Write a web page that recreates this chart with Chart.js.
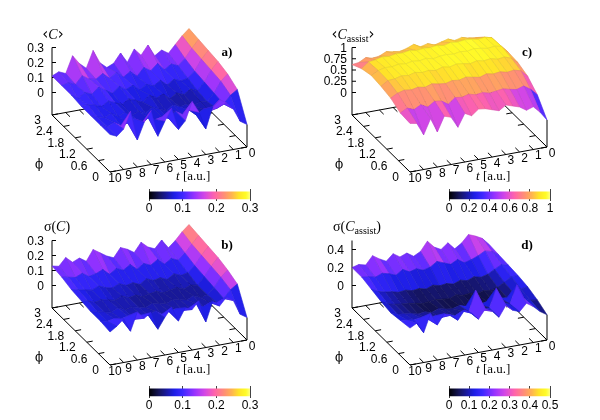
<!DOCTYPE html>
<html><head><meta charset="utf-8">
<script src="https://cdn.jsdelivr.net/npm/chart.js@4.4.1/dist/chart.umd.min.js"></script>
<style>
html,body{margin:0;padding:0;background:#fff;}
#wrap{position:relative;width:600px;height:420px;overflow:hidden;background:#fff;}
#wrap canvas{position:absolute;}
.lb{position:absolute;font-family:'Liberation Sans',Arial,sans-serif;font-size:12px;line-height:1;white-space:nowrap;color:#000;}
.sf{font-family:'Liberation Serif','DejaVu Serif',serif;font-size:13px;}
.sym{font-family:'DejaVu Serif','Liberation Serif',serif;font-size:12px;}
.tag{font-family:'Liberation Serif','DejaVu Serif',serif;font-size:13px;font-weight:bold;}
.ttl{font-family:'Liberation Serif','DejaVu Serif',serif;font-size:14px;}
.br{font-family:'DejaVu Sans',sans-serif;font-size:15px;}
sub{font-size:10px;vertical-align:-3px;line-height:0;}
</style></head><body><div id="wrap"></div>
<script>
// ---------- data ----------
const tValues   = [0,0.5,1,1.5,2,2.5,3,3.5,4,4.5,5,5.5,6,6.5,7,7.5,8,8.5,9,9.5,10];
const phiValues = [0,0.5,1,1.5,2,2.5,3];

// rows: phi = 0, 0.5, ..., 3 ; columns: t = 0 ... 10
const meanC = [
 [0.00,0.03,0.12,0.17,0.20,0.16,0.02,0.14,0.22,0.10,0.05,0.20,0.12,0.03,0.21,0.14,0.03,0.23,0.12,0.08,0.10],
 [0.17,0.14,0.09,0.07,0.06,0.08,0.05,0.09,0.07,0.10,0.06,0.08,0.07,0.09,0.06,0.10,0.08,0.07,0.10,0.08,0.10],
 [0.21,0.17,0.10,0.05,0.06,0.04,0.06,0.05,0.07,0.04,0.06,0.08,0.05,0.07,0.05,0.08,0.06,0.09,0.07,0.08,0.10],
 [0.23,0.18,0.11,0.06,0.08,0.05,0.07,0.04,0.08,0.06,0.09,0.05,0.07,0.09,0.06,0.08,0.10,0.07,0.09,0.10,0.10],
 [0.24,0.19,0.12,0.08,0.07,0.09,0.06,0.10,0.07,0.09,0.06,0.10,0.08,0.11,0.07,0.10,0.13,0.09,0.11,0.08,0.11],
 [0.25,0.20,0.14,0.10,0.12,0.09,0.14,0.10,0.13,0.08,0.12,0.09,0.13,0.10,0.14,0.11,0.12,0.15,0.10,0.12,0.11],
 [0.26,0.22,0.17,0.12,0.15,0.12,0.20,0.14,0.19,0.11,0.18,0.12,0.10,0.14,0.23,0.12,0.16,0.22,0.11,0.13,0.11]
];
const sigmaC = [
 [0.00,0.03,0.13,0.16,0.11,0.15,0.02,0.17,0.12,0.14,0.06,0.16,0.10,0.03,0.15,0.12,0.17,0.05,0.14,0.10,0.07],
 [0.16,0.13,0.08,0.06,0.07,0.05,0.08,0.06,0.05,0.07,0.06,0.05,0.08,0.06,0.07,0.05,0.08,0.07,0.08,0.07,0.08],
 [0.19,0.15,0.09,0.05,0.04,0.06,0.04,0.05,0.06,0.04,0.05,0.06,0.04,0.05,0.06,0.05,0.07,0.05,0.06,0.07,0.08],
 [0.21,0.16,0.10,0.05,0.06,0.04,0.06,0.05,0.04,0.06,0.05,0.04,0.06,0.05,0.07,0.05,0.06,0.07,0.06,0.08,0.09],
 [0.22,0.17,0.11,0.07,0.06,0.08,0.05,0.07,0.06,0.08,0.05,0.07,0.06,0.08,0.06,0.07,0.09,0.07,0.08,0.09,0.10],
 [0.23,0.18,0.13,0.09,0.11,0.08,0.12,0.09,0.11,0.08,0.12,0.09,0.11,0.08,0.12,0.10,0.09,0.12,0.10,0.11,0.12],
 [0.24,0.20,0.15,0.11,0.17,0.12,0.14,0.18,0.12,0.15,0.17,0.11,0.13,0.16,0.19,0.12,0.15,0.13,0.17,0.12,0.13]
];
const meanCassist = [
 [0.10,0.30,0.45,0.40,0.50,0.55,0.60,0.50,0.55,0.60,0.62,0.50,0.58,0.30,0.55,0.60,0.28,0.60,0.27,0.55,0.58],
 [0.45,0.60,0.70,0.65,0.68,0.72,0.70,0.68,0.72,0.70,0.74,0.70,0.72,0.60,0.70,0.72,0.62,0.70,0.62,0.68,0.60],
 [0.65,0.80,0.84,0.82,0.86,0.84,0.87,0.82,0.85,0.88,0.84,0.86,0.82,0.84,0.87,0.82,0.85,0.82,0.84,0.80,0.72],
 [0.74,0.87,0.92,0.90,0.94,0.92,0.95,0.91,0.94,0.96,0.92,0.95,0.90,0.93,0.91,0.94,0.90,0.92,0.88,0.87,0.77],
 [0.76,0.92,0.95,0.93,0.96,0.98,0.95,0.97,0.94,0.96,0.95,0.92,0.96,0.93,0.95,0.92,0.94,0.91,0.92,0.88,0.80],
 [0.72,0.90,0.94,0.92,0.95,0.96,0.94,0.96,0.92,0.95,0.93,0.94,0.92,0.95,0.92,0.93,0.90,0.92,0.88,0.86,0.74],
 [0.60,0.68,0.72,0.74,0.78,0.74,0.80,0.76,0.72,0.78,0.74,0.82,0.76,0.72,0.74,0.77,0.70,0.68,0.72,0.64,0.62]
];
const sigmaCassist = [
 [0.03,0.08,0.15,0.20,0.12,0.15,0.22,0.10,0.18,0.22,0.12,0.20,0.25,0.15,0.22,0.25,0.14,0.28,0.08,0.20,0.16],
 [0.09,0.10,0.14,0.30,0.10,0.12,0.30,0.10,0.09,0.32,0.10,0.12,0.08,0.11,0.09,0.12,0.10,0.13,0.12,0.13,0.14],
 [0.13,0.12,0.08,0.05,0.06,0.04,0.05,0.03,0.05,0.04,0.06,0.04,0.05,0.07,0.04,0.06,0.05,0.07,0.08,0.09,0.12],
 [0.15,0.15,0.10,0.06,0.04,0.05,0.03,0.05,0.04,0.06,0.03,0.04,0.05,0.04,0.03,0.05,0.06,0.07,0.08,0.10,0.14],
 [0.16,0.18,0.14,0.10,0.08,0.10,0.07,0.09,0.06,0.08,0.07,0.09,0.06,0.08,0.07,0.09,0.08,0.10,0.11,0.13,0.17],
 [0.17,0.22,0.24,0.20,0.17,0.15,0.20,0.16,0.19,0.22,0.17,0.15,0.18,0.16,0.20,0.15,0.18,0.20,0.17,0.19,0.20],
 [0.18,0.26,0.30,0.33,0.25,0.20,0.28,0.22,0.26,0.34,0.24,0.20,0.25,0.22,0.27,0.20,0.24,0.29,0.20,0.22,0.20]
];

const tTicks      = [0,1,2,3,4,5,6,7,8,9,10];
const tTickLabels = ['0','1','2','3','4','5','6','7','8','9','10'];
const phiTicks      = [0,0.6,1.2,1.8,2.4,3];
const phiTickLabels = ['0','0.6','1.2','1.8','2.4','3'];

const zTicksC       = [0,0.1,0.2,0.3];
const zLabelsC      = ['0','0.1','0.2','0.3'];
const zTicksAssist  = [0,0.25,0.5,0.75,1];
const zLabelsAssist = ['0','0.25','0.5','0.75','1'];
const zTicksSigA    = [0,0.2,0.4];
const zLabelsSigA   = ['0','0.2','0.4'];

const cbTicksC      = [0,0.1,0.2,0.3];
const cbLabelsC     = ['0','0.1','0.2','0.3'];
const cbTicksAssist = [0,0.2,0.4,0.6,0.8,1];
const cbLabelsAssist= ['0','0.2','0.4','0.6','0.8','1'];
const cbTicksSigA   = [0,0.1,0.2,0.3,0.4,0.5];
const cbLabelsSigA  = ['0','0.1','0.2','0.3','0.4','0.5'];

// ---------- palette ----------
const palette = [
 [0.00,0,0,0],[0.10,20,20,90],[0.25,30,30,230],[0.33,60,40,255],[0.45,150,50,255],
 [0.55,210,70,230],[0.65,255,100,170],[0.75,255,145,115],[0.82,255,180,80],[0.89,255,228,40],[0.96,255,252,40],[1.00,255,255,130]
];
function cmapRGB(f){
  f=Math.max(0,Math.min(1,f));
  for(let i=1;i<palette.length;i++){
    if(f<=palette[i][0]){
      const a=palette[i-1],b=palette[i],u=(f-a[0])/(b[0]-a[0]);
      return [1,2,3].map(k=>Math.round(a[k]+(b[k]-a[k])*u));
    }
  }
  return [255,255,130];
}
const rgb=(c,m)=>'rgb('+c.map(v=>Math.round(v*m)).join(',')+')';

Chart.defaults.font.family="'Liberation Sans', Arial, sans-serif";
Chart.defaults.font.size=12;
Chart.defaults.color='#000';

const wrap=document.getElementById('wrap');
function label(html,x,y,cls,ax,ay){
  const d=document.createElement('div');
  d.className='lb '+(cls||'');
  d.innerHTML=html;
  d.style.left=x+'px'; d.style.top=y+'px';
  d.style.transform='translate('+(-ax*100)+'%,'+(-ay*100)+'%)';
  wrap.appendChild(d);
}

const panels=[
 {ox:0,  oy:0,   grid:meanC,        zmax:0.3, zT:zTicksC,      zL:zLabelsC,      zR:44, cbT:cbTicksC,      cbL:cbLabelsC,      cbX:149, cbY:187,
  title:'<span class="br">‹</span><i>C</i><span class="br">›</span>', tcx:53, tag:'a)'},
 {ox:0,  oy:193, grid:sigmaC,       zmax:0.3, zT:zTicksC,      zL:zLabelsC,      zR:44, cbT:cbTicksC,      cbL:cbLabelsC,      cbX:149, cbY:384,
  title:'σ(<i>C</i>)', tcx:57, tag:'b)'},
 {ox:300,oy:0,   grid:meanCassist,  zmax:1.0, zT:zTicksAssist, zL:zLabelsAssist, zR:47, cbT:cbTicksAssist, cbL:cbLabelsAssist, cbX:449, cbY:187,
  title:'<span class="br">‹</span><i>C</i><sub>assist</sub><span class="br">›</span>', tcx:53, tag:'c)'},
 {ox:300,oy:193, grid:sigmaCassist, zmax:0.5, zT:zTicksSigA,   zL:zLabelsSigA,   zR:44, cbT:cbTicksSigA,   cbL:cbLabelsSigA,   cbX:449, cbY:384,
  title:'σ(<i>C</i><sub>assist</sub>)', tcx:57, tag:'d)'}
];

function makeProj(zmax){
  const s=45/zmax, zb=-zmax/2;
  return (t,phi,z)=>({x:247-13.7*t-19.333*phi, y:147+2.5*t-19*phi-(z-zb)*s});
}
function lineDS(pts,color,w,order){
  return {data:pts,borderColor:color,borderWidth:w,fill:false,pointRadius:0,order:order,tension:0};
}

panels.forEach(p=>{
  const P=makeProj(p.zmax), zb=-p.zmax/2;
  const ds=[];
  const A=P(10,3,zb),B=P(10,0,zb),C=P(0,0,zb),D=P(0,3,zb);
  ds.push(lineDS([A,B,C,D,A],'#000',1,1e6));
  ds.push(lineDS([A,P(10,3,p.zmax)],'#000',1,1e6));
  ds.push(lineDS([C,P(0,0,p.grid[0][0])],'#000',1,1e6));
  const L=6;
  phiTicks.forEach(f=>{
    const a=P(10,f,zb); ds.push(lineDS([a,{x:a.x+L*0.984,y:a.y-L*0.18}],'#000',1,1e6));
    const b=P(0,f,zb);  ds.push(lineDS([b,{x:b.x-L*0.984,y:b.y+L*0.18}],'#000',1,1e6));
  });
  tTicks.forEach(t=>{
    const a=P(t,0,zb); ds.push(lineDS([a,{x:a.x-L*0.713,y:a.y-L*0.701}],'#000',1,1e6));
    const b=P(t,3,zb); ds.push(lineDS([b,{x:b.x+L*0.713,y:b.y+L*0.701}],'#000',1,1e6));
  });
  p.zT.forEach(z=>{
    const a=P(10,3,z); ds.push(lineDS([a,{x:a.x+4,y:a.y}],'#000',1,1e6));
  });
  for(let j=0;j<phiValues.length-1;j++){
    for(let i=0;i<tValues.length-1;i++){
      const t0=tValues[i],t1=tValues[i+1],f0=phiValues[j],f1=phiValues[j+1];
      const z00=p.grid[j][i],z10=p.grid[j][i+1],z11=p.grid[j+1][i+1],z01=p.grid[j+1][i];
      const c=cmapRGB((z00+z10+z11+z01)/4/p.zmax);
      const pts=[P(t0,f0,z00),P(t1,f0,z10),P(t1,f1,z11),P(t0,f1,z01),P(t0,f0,z00)];
      const depth=147+2.5*(t0+t1)/2-19*(f0+f1)/2;
      ds.push({data:pts,borderColor:rgb(c,0.9),backgroundColor:rgb(c,1),borderWidth:0.6,fill:'shape',pointRadius:0,tension:0,order:1000-depth});
    }
  }
  const cv=document.createElement('canvas');
  cv.width=300; cv.height=210;
  cv.style.left=p.ox+'px'; cv.style.top=p.oy+'px';
  wrap.appendChild(cv);
  new Chart(cv,{
    type:'line',
    data:{datasets:ds},
    options:{
      animation:false,responsive:false,events:[],
      layout:{padding:0},
      plugins:{legend:{display:false},tooltip:{enabled:false}},
      scales:{
        x:{type:'linear',min:0,max:300,display:false},
        y:{type:'linear',min:0,max:210,reverse:true,display:false}
      }
    }
  });

  const cb=document.createElement('canvas');
  cb.width=160; cb.height=26;
  cb.style.left=(p.cbX-30)+'px'; cb.style.top=p.cbY+'px';
  wrap.appendChild(cb);
  const zm=p.zmax;
  new Chart(cb,{
    type:'line',
    data:{datasets:[{
      data:[{x:0,y:0.15},{x:zm,y:0.15},{x:zm,y:0.8},{x:0,y:0.8},{x:0,y:0.15}],
      borderWidth:0,pointRadius:0,fill:'shape',
      backgroundColor:(ctx)=>{
        const ch=ctx.chart,ca=ch.chartArea;
        if(!ca) return 'rgba(0,0,0,0)';
        const g=ch.ctx.createLinearGradient(ca.left,0,ca.right,0);
        palette.forEach(s=>g.addColorStop(s[0],'rgb('+s[1]+','+s[2]+','+s[3]+')'));
        return g;
      }
    }]},
    options:{
      animation:false,responsive:false,events:[],
      layout:{padding:{left:30,right:29,top:2,bottom:0}},
      plugins:{legend:{display:false},tooltip:{enabled:false}},
      scales:{
        x:{type:'linear',min:0,max:zm,z:1,
           afterBuildTicks:(ax)=>{ax.ticks=p.cbT.map(v=>({value:v}));},
           ticks:{autoSkip:false,maxRotation:0,padding:0,color:'#000',font:{size:12},
                  callback:(v,i)=>p.cbL[i]},
           grid:{drawOnChartArea:true,drawTicks:false,color:'#444',lineWidth:1},
           border:{display:false}},
        y:{type:'linear',min:0,max:1,display:false}
      }
    }
  });

  p.zT.forEach((z,k)=>{ const a=P(10,3,z); label(p.zL[k],p.ox+p.zR,p.oy+a.y,'',1,0.5); });
  phiTicks.forEach((f,k)=>{ const a=P(10,f,zb); label(phiTickLabels[k],p.ox+a.x-11,p.oy+a.y+5,'',1,0.5); });
  tTicks.forEach((t,k)=>{ const a=P(t,0,zb); label(tTickLabels[k],p.ox+a.x+5,p.oy+a.y+5.5,'',0.5,0.5); });
  label('ϕ',p.ox+39,p.oy+164,'sym',0.5,0.5);
  label('<i>t</i> [a.u.]',p.ox+176,p.oy+175,'sf',0,0.5);
  label(p.title,p.ox+p.tcx,p.oy+34,'ttl',0.5,0.5);
  label(p.tag,p.ox+227,p.oy+51,'tag',0.5,0.5);
});
</script></body></html>
